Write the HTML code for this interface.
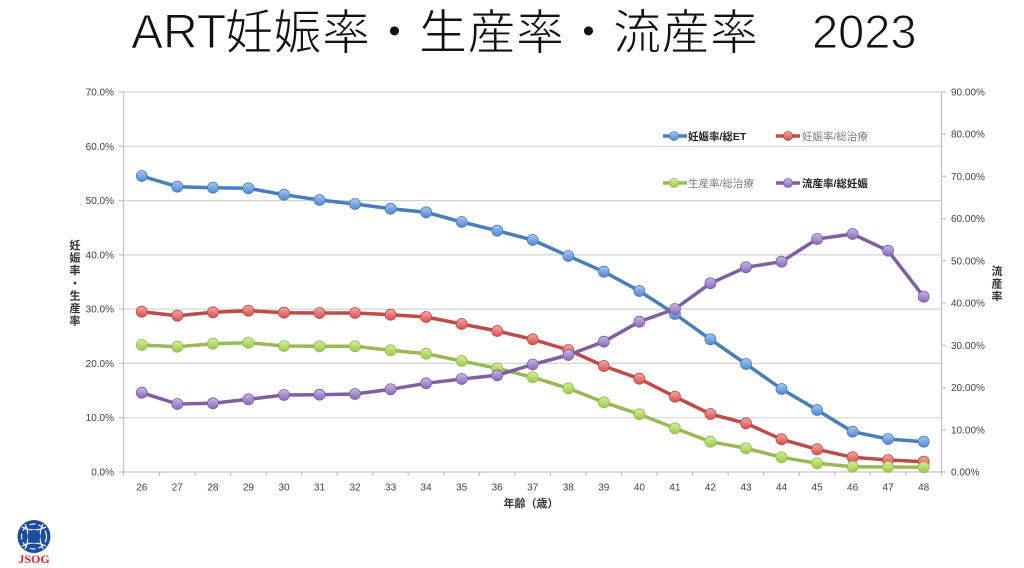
<!DOCTYPE html>
<html>
<head>
<meta charset="utf-8">
<style>
html,body{margin:0;padding:0;background:#fff;}
body{width:1024px;height:568px;overflow:hidden;}
svg{display:block;}
</style>
</head>
<body>
<svg width="1024" height="568" viewBox="0 0 1024 568" xmlns="http://www.w3.org/2000/svg">
<defs>
  <linearGradient id="gB" x1="0" y1="0" x2="0" y2="1"><stop offset="0" stop-color="#a9c8f0"/><stop offset="1" stop-color="#4f86d0"/></linearGradient>
  <linearGradient id="gR" x1="0" y1="0" x2="0" y2="1"><stop offset="0" stop-color="#f4a9a7"/><stop offset="1" stop-color="#d8504c"/></linearGradient>
  <linearGradient id="gG" x1="0" y1="0" x2="0" y2="1"><stop offset="0" stop-color="#d4f09a"/><stop offset="1" stop-color="#9cc84a"/></linearGradient>
  <linearGradient id="gP" x1="0" y1="0" x2="0" y2="1"><stop offset="0" stop-color="#c9b6e6"/><stop offset="1" stop-color="#8a68b8"/></linearGradient>
</defs>

<!-- Title -->
<g stroke="#ffffff" stroke-width="1.0">
<text x="131" y="48" font-family="Liberation Sans, sans-serif" font-size="48" fill="#111">ART</text>
<text x="225" y="49" font-family="Liberation Sans, 'Noto Sans CJK JP', sans-serif" font-size="48" letter-spacing="0.5" fill="#111">妊娠率・生産率・流産率</text>
<text x="812" y="48" font-family="Liberation Sans, sans-serif" font-size="47" fill="#111">2023</text>
</g>

<!-- Gridlines -->
<g stroke="#d4d4d4" stroke-width="1.2">
  <line x1="123" y1="92" x2="941.5" y2="92"/>
  <line x1="123" y1="146.3" x2="941.5" y2="146.3"/>
  <line x1="123" y1="200.6" x2="941.5" y2="200.6"/>
  <line x1="123" y1="254.9" x2="941.5" y2="254.9"/>
  <line x1="123" y1="309.1" x2="941.5" y2="309.1"/>
  <line x1="123" y1="363.4" x2="941.5" y2="363.4"/>
  <line x1="123" y1="417.7" x2="941.5" y2="417.7"/>
</g>

<!-- Axes -->
<g stroke="#c4c4c4" stroke-width="1.3">
  <line x1="123.5" y1="92" x2="123.5" y2="476"/>
  <line x1="941.5" y1="92" x2="941.5" y2="472"/>
  <line x1="123" y1="472" x2="941.5" y2="472"/>
  <line x1="119" y1="92" x2="123.5" y2="92"/>
  <line x1="119" y1="146.3" x2="123.5" y2="146.3"/>
  <line x1="119" y1="200.6" x2="123.5" y2="200.6"/>
  <line x1="119" y1="254.9" x2="123.5" y2="254.9"/>
  <line x1="119" y1="309.1" x2="123.5" y2="309.1"/>
  <line x1="119" y1="363.4" x2="123.5" y2="363.4"/>
  <line x1="119" y1="417.7" x2="123.5" y2="417.7"/>
  <line x1="119" y1="472" x2="123.5" y2="472"/>
  <line x1="941.5" y1="92" x2="946" y2="92"/>
  <line x1="941.5" y1="134.2" x2="946" y2="134.2"/>
  <line x1="941.5" y1="176.4" x2="946" y2="176.4"/>
  <line x1="941.5" y1="218.7" x2="946" y2="218.7"/>
  <line x1="941.5" y1="260.9" x2="946" y2="260.9"/>
  <line x1="941.5" y1="303.1" x2="946" y2="303.1"/>
  <line x1="941.5" y1="345.3" x2="946" y2="345.3"/>
  <line x1="941.5" y1="387.6" x2="946" y2="387.6"/>
  <line x1="941.5" y1="429.8" x2="946" y2="429.8"/>
  <line x1="941.5" y1="472" x2="946" y2="472"/>
  <line x1="159.5" y1="472" x2="159.5" y2="476"/>
  <line x1="195.1" y1="472" x2="195.1" y2="476"/>
  <line x1="230.6" y1="472" x2="230.6" y2="476"/>
  <line x1="266.2" y1="472" x2="266.2" y2="476"/>
  <line x1="301.7" y1="472" x2="301.7" y2="476"/>
  <line x1="337.2" y1="472" x2="337.2" y2="476"/>
  <line x1="372.8" y1="472" x2="372.8" y2="476"/>
  <line x1="408.3" y1="472" x2="408.3" y2="476"/>
  <line x1="443.9" y1="472" x2="443.9" y2="476"/>
  <line x1="479.4" y1="472" x2="479.4" y2="476"/>
  <line x1="514.9" y1="472" x2="514.9" y2="476"/>
  <line x1="550.5" y1="472" x2="550.5" y2="476"/>
  <line x1="586.0" y1="472" x2="586.0" y2="476"/>
  <line x1="621.6" y1="472" x2="621.6" y2="476"/>
  <line x1="657.1" y1="472" x2="657.1" y2="476"/>
  <line x1="692.6" y1="472" x2="692.6" y2="476"/>
  <line x1="728.2" y1="472" x2="728.2" y2="476"/>
  <line x1="763.7" y1="472" x2="763.7" y2="476"/>
  <line x1="799.3" y1="472" x2="799.3" y2="476"/>
  <line x1="834.8" y1="472" x2="834.8" y2="476"/>
  <line x1="870.3" y1="472" x2="870.3" y2="476"/>
  <line x1="905.9" y1="472" x2="905.9" y2="476"/>
  <line x1="941.5" y1="472" x2="941.5" y2="476"/>
</g>

<!-- Left labels -->
<g font-family="Liberation Sans, sans-serif" font-size="10" fill="#404040" text-anchor="end">
  <text x="114" y="95.5">70.0%</text>
  <text x="114" y="149.8">60.0%</text>
  <text x="114" y="204.1">50.0%</text>
  <text x="114" y="258.4">40.0%</text>
  <text x="114" y="312.6">30.0%</text>
  <text x="114" y="366.9">20.0%</text>
  <text x="114" y="421.2">10.0%</text>
  <text x="114" y="475.5">0.0%</text>
</g>
<!-- Right labels -->
<g font-family="Liberation Sans, sans-serif" font-size="10" fill="#404040" text-anchor="start">
  <text x="951" y="95.5">90.00%</text>
  <text x="951" y="137.7">80.00%</text>
  <text x="951" y="179.9">70.00%</text>
  <text x="951" y="222.2">60.00%</text>
  <text x="951" y="264.4">50.00%</text>
  <text x="951" y="306.6">40.00%</text>
  <text x="951" y="348.8">30.00%</text>
  <text x="951" y="391.1">20.00%</text>
  <text x="951" y="433.3">10.00%</text>
  <text x="951" y="475.5">0.00%</text>
</g>
<!-- X labels -->
<g font-family="Liberation Sans, sans-serif" font-size="10" fill="#404040" text-anchor="middle">
  <text x="141.8" y="490.5">26</text><text x="177.3" y="490.5">27</text><text x="212.9" y="490.5">28</text>
  <text x="248.4" y="490.5">29</text><text x="284.0" y="490.5">30</text><text x="319.5" y="490.5">31</text>
  <text x="355.0" y="490.5">32</text><text x="390.6" y="490.5">33</text><text x="426.1" y="490.5">34</text>
  <text x="461.7" y="490.5">35</text><text x="497.2" y="490.5">36</text><text x="532.7" y="490.5">37</text>
  <text x="568.3" y="490.5">38</text><text x="603.8" y="490.5">39</text><text x="639.4" y="490.5">40</text>
  <text x="674.9" y="490.5">41</text><text x="710.4" y="490.5">42</text><text x="746.0" y="490.5">43</text>
  <text x="781.5" y="490.5">44</text><text x="817.1" y="490.5">45</text><text x="852.6" y="490.5">46</text>
  <text x="888.1" y="490.5">47</text><text x="923.7" y="490.5">48</text>
</g>
<!-- Axis titles -->
<text x="531" y="507" font-family="Liberation Sans, 'Noto Sans CJK JP', sans-serif" font-size="11" font-weight="bold" fill="#333" text-anchor="middle">年齢（歳）</text>
<g font-family="'Noto Sans CJK JP', sans-serif" font-size="11" font-weight="bold" fill="#333" text-anchor="middle">
  <text x="75" y="249">妊</text>
  <text x="75" y="261.6">娠</text>
  <text x="75" y="274.2">率</text>
  <text x="75" y="286.8">・</text>
  <text x="75" y="299.4">生</text>
  <text x="75" y="312">産</text>
  <text x="75" y="324.6">率</text>
  <text x="997" y="275">流</text>
  <text x="997" y="287.6">産</text>
  <text x="997" y="300.2">率</text>
</g>

<!-- Legend -->
<g>
  <line x1="663" y1="136" x2="687" y2="136" stroke="#4A7EBB" stroke-width="3.5"/>
  <circle cx="674" cy="136" r="4.5" fill="url(#gB)" stroke="#4A7EBB" stroke-width="0.8"/>
  <text x="688" y="139.8" font-family="Liberation Sans, 'Noto Sans CJK JP', sans-serif" font-size="10.5" font-weight="bold" fill="#222">妊娠率/総ET</text>

  <line x1="776" y1="136" x2="800" y2="136" stroke="#BE4B48" stroke-width="3.5"/>
  <circle cx="788" cy="136" r="4.5" fill="url(#gR)" stroke="#BE4B48" stroke-width="0.8"/>
  <text x="802" y="139.8" font-family="Liberation Sans, 'Noto Sans CJK JP', sans-serif" font-size="10.5" fill="#7a7a7a">妊娠率/総治療</text>

  <line x1="663" y1="183" x2="687" y2="183" stroke="#98B954" stroke-width="3.5"/>
  <circle cx="674" cy="183" r="4.5" fill="url(#gG)" stroke="#98B954" stroke-width="0.8"/>
  <text x="688" y="186.8" font-family="Liberation Sans, 'Noto Sans CJK JP', sans-serif" font-size="10.5" fill="#7a7a7a">生産率/総治療</text>

  <line x1="776" y1="183" x2="800" y2="183" stroke="#7D60A0" stroke-width="3.5"/>
  <circle cx="788" cy="183" r="4.5" fill="url(#gP)" stroke="#7D60A0" stroke-width="0.8"/>
  <text x="802" y="186.8" font-family="Liberation Sans, 'Noto Sans CJK JP', sans-serif" font-size="10.5" font-weight="bold" fill="#222">流産率/総妊娠</text>
</g>

<!-- Blue series -->
<g>
<polyline fill="none" stroke="#4A7EBB" stroke-width="3.5" stroke-linejoin="round" points="141.8,176 177.3,186.7 212.9,187.7 248.4,188.3 284.0,194.7 319.5,200 355.0,204 390.6,208.7 426.1,212.3 461.7,222 497.2,230.7 532.7,240 568.3,256 603.8,271.7 639.4,291 674.9,314 710.4,339.3 746.0,364 781.5,389 817.1,410 852.6,431.7 888.1,439 923.7,441.7"/>
<g fill="url(#gB)" stroke="#4A7EBB" stroke-width="0.8">
<circle cx="141.8" cy="176" r="5.5"/><circle cx="177.3" cy="186.7" r="5.5"/><circle cx="212.9" cy="187.7" r="5.5"/><circle cx="248.4" cy="188.3" r="5.5"/><circle cx="284.0" cy="194.7" r="5.5"/><circle cx="319.5" cy="200" r="5.5"/><circle cx="355.0" cy="204" r="5.5"/><circle cx="390.6" cy="208.7" r="5.5"/><circle cx="426.1" cy="212.3" r="5.5"/><circle cx="461.7" cy="222" r="5.5"/><circle cx="497.2" cy="230.7" r="5.5"/><circle cx="532.7" cy="240" r="5.5"/><circle cx="568.3" cy="256" r="5.5"/><circle cx="603.8" cy="271.7" r="5.5"/><circle cx="639.4" cy="291" r="5.5"/><circle cx="674.9" cy="314" r="5.5"/><circle cx="710.4" cy="339.3" r="5.5"/><circle cx="746.0" cy="364" r="5.5"/><circle cx="781.5" cy="389" r="5.5"/><circle cx="817.1" cy="410" r="5.5"/><circle cx="852.6" cy="431.7" r="5.5"/><circle cx="888.1" cy="439" r="5.5"/><circle cx="923.7" cy="441.7" r="5.5"/>
</g>
</g>

<!-- Red series -->
<g>
<polyline fill="none" stroke="#BE4B48" stroke-width="3.5" stroke-linejoin="round" points="141.8,311.7 177.3,315.7 212.9,312.3 248.4,310.7 284.0,312.7 319.5,313 355.0,313 390.6,314.7 426.1,317 461.7,324 497.2,331 532.7,339.3 568.3,350 603.8,366 639.4,378.7 674.9,396.7 710.4,414 746.0,423.3 781.5,439.3 817.1,449.3 852.6,457.3 888.1,460 923.7,461.7"/>
<g fill="url(#gR)" stroke="#BE4B48" stroke-width="0.8">
<circle cx="141.8" cy="311.7" r="5.5"/><circle cx="177.3" cy="315.7" r="5.5"/><circle cx="212.9" cy="312.3" r="5.5"/><circle cx="248.4" cy="310.7" r="5.5"/><circle cx="284.0" cy="312.7" r="5.5"/><circle cx="319.5" cy="313" r="5.5"/><circle cx="355.0" cy="313" r="5.5"/><circle cx="390.6" cy="314.7" r="5.5"/><circle cx="426.1" cy="317" r="5.5"/><circle cx="461.7" cy="324" r="5.5"/><circle cx="497.2" cy="331" r="5.5"/><circle cx="532.7" cy="339.3" r="5.5"/><circle cx="568.3" cy="350" r="5.5"/><circle cx="603.8" cy="366" r="5.5"/><circle cx="639.4" cy="378.7" r="5.5"/><circle cx="674.9" cy="396.7" r="5.5"/><circle cx="710.4" cy="414" r="5.5"/><circle cx="746.0" cy="423.3" r="5.5"/><circle cx="781.5" cy="439.3" r="5.5"/><circle cx="817.1" cy="449.3" r="5.5"/><circle cx="852.6" cy="457.3" r="5.5"/><circle cx="888.1" cy="460" r="5.5"/><circle cx="923.7" cy="461.7" r="5.5"/>
</g>
</g>

<!-- Green series -->
<g>
<polyline fill="none" stroke="#98B954" stroke-width="3.5" stroke-linejoin="round" points="141.8,345 177.3,346.7 212.9,343.7 248.4,342.7 284.0,346 319.5,346.3 355.0,346.3 390.6,350.3 426.1,353.7 461.7,361 497.2,368.3 532.7,377.3 568.3,388.3 603.8,402.3 639.4,414.3 674.9,428.3 710.4,441.7 746.0,448.3 781.5,457.3 817.1,463.3 852.6,466.7 888.1,467 923.7,467.3"/>
<g fill="url(#gG)" stroke="#98B954" stroke-width="0.8">
<circle cx="141.8" cy="345" r="5.5"/><circle cx="177.3" cy="346.7" r="5.5"/><circle cx="212.9" cy="343.7" r="5.5"/><circle cx="248.4" cy="342.7" r="5.5"/><circle cx="284.0" cy="346" r="5.5"/><circle cx="319.5" cy="346.3" r="5.5"/><circle cx="355.0" cy="346.3" r="5.5"/><circle cx="390.6" cy="350.3" r="5.5"/><circle cx="426.1" cy="353.7" r="5.5"/><circle cx="461.7" cy="361" r="5.5"/><circle cx="497.2" cy="368.3" r="5.5"/><circle cx="532.7" cy="377.3" r="5.5"/><circle cx="568.3" cy="388.3" r="5.5"/><circle cx="603.8" cy="402.3" r="5.5"/><circle cx="639.4" cy="414.3" r="5.5"/><circle cx="674.9" cy="428.3" r="5.5"/><circle cx="710.4" cy="441.7" r="5.5"/><circle cx="746.0" cy="448.3" r="5.5"/><circle cx="781.5" cy="457.3" r="5.5"/><circle cx="817.1" cy="463.3" r="5.5"/><circle cx="852.6" cy="466.7" r="5.5"/><circle cx="888.1" cy="467" r="5.5"/><circle cx="923.7" cy="467.3" r="5.5"/>
</g>
</g>

<!-- Purple series -->
<g>
<polyline fill="none" stroke="#7D60A0" stroke-width="3.5" stroke-linejoin="round" points="141.8,392.7 177.3,404 212.9,403.3 248.4,399.3 284.0,395 319.5,394.7 355.0,394 390.6,389.3 426.1,383.3 461.7,379 497.2,375.3 532.7,364.5 568.3,355 603.8,341.7 639.4,321.7 674.9,309 710.4,283.3 746.0,267.3 781.5,261.7 817.1,239 852.6,234 888.1,250.7 923.7,296.7"/>
<g fill="url(#gP)" stroke="#7D60A0" stroke-width="0.8">
<circle cx="141.8" cy="392.7" r="5.5"/><circle cx="177.3" cy="404" r="5.5"/><circle cx="212.9" cy="403.3" r="5.5"/><circle cx="248.4" cy="399.3" r="5.5"/><circle cx="284.0" cy="395" r="5.5"/><circle cx="319.5" cy="394.7" r="5.5"/><circle cx="355.0" cy="394" r="5.5"/><circle cx="390.6" cy="389.3" r="5.5"/><circle cx="426.1" cy="383.3" r="5.5"/><circle cx="461.7" cy="379" r="5.5"/><circle cx="497.2" cy="375.3" r="5.5"/><circle cx="532.7" cy="364.5" r="5.5"/><circle cx="568.3" cy="355" r="5.5"/><circle cx="603.8" cy="341.7" r="5.5"/><circle cx="639.4" cy="321.7" r="5.5"/><circle cx="674.9" cy="309" r="5.5"/><circle cx="710.4" cy="283.3" r="5.5"/><circle cx="746.0" cy="267.3" r="5.5"/><circle cx="781.5" cy="261.7" r="5.5"/><circle cx="817.1" cy="239" r="5.5"/><circle cx="852.6" cy="234" r="5.5"/><circle cx="888.1" cy="250.7" r="5.5"/><circle cx="923.7" cy="296.7" r="5.5"/>
</g>
</g>

<!-- JSOG logo -->
<g>
  <circle cx="34" cy="536.5" r="16.5" fill="#1d4c9e"/>
  <g fill="none" stroke="#ffffff" stroke-width="1.3" opacity="0.9">
    <path d="M22,527 Q34,533 46,527"/>
    <path d="M22,546 Q34,540 46,546"/>
    <path d="M25,524 Q31,536.5 25,549"/>
    <path d="M43,524 Q37,536.5 43,549"/>
    <circle cx="34" cy="536.5" r="12.5" stroke-dasharray="6 3"/>
  </g>
  <circle cx="34" cy="536.5" r="6.5" fill="#1d4c9e"/>
  <text x="34" y="563" font-family="Liberation Serif, serif" font-size="12" font-weight="bold" fill="#e3202a" text-anchor="middle">JSOG</text>
</g>
</svg>
</body>
</html>
